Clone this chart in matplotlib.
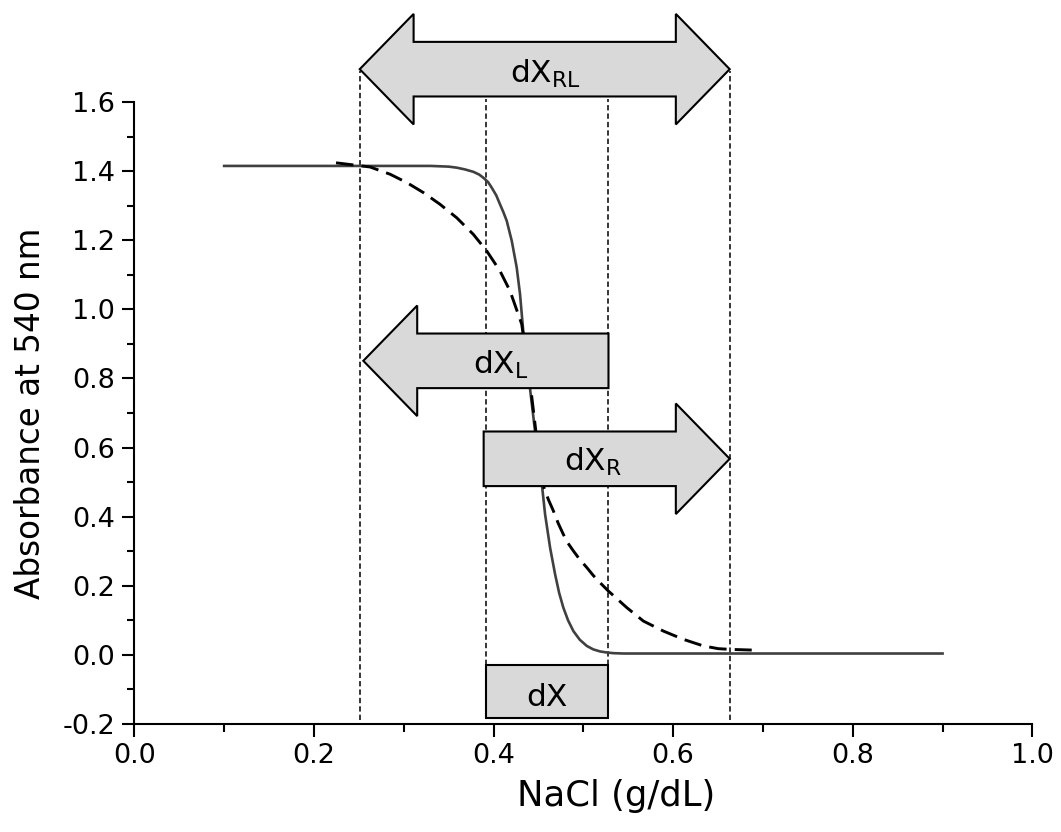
"""Absorbance vs NaCl: sharp and broad lysis curves with dX interval arrows."""

import matplotlib

matplotlib.use("Agg")
import matplotlib.pyplot as plt  # noqa: E402
import matplotlib.ticker as ticker  # noqa: E402
from matplotlib.patches import Polygon  # noqa: E402

# solid (steep) curve
SOLID_X = [0.100, 0.185, 0.296, 0.330, 0.350, 0.359, 0.368, 0.3775, 0.384,
           0.3886, 0.394, 0.398, 0.403, 0.4072, 0.411, 0.4147, 0.4203,
           0.4258, 0.4295, 0.4332, 0.4407, 0.4462, 0.454, 0.4574, 0.4630,
           0.4685, 0.473, 0.4777, 0.483, 0.4889, 0.496, 0.5038, 0.511,
           0.5186, 0.526, 0.5334, 0.545, 0.563, 0.63, 0.741, 0.900]
SOLID_Y = [1.415, 1.415, 1.415, 1.415, 1.413, 1.410, 1.405, 1.398, 1.390,
           1.381, 1.368, 1.352, 1.330, 1.304, 1.281, 1.256, 1.198,
           1.121, 1.044, 0.933, 0.769, 0.648, 0.489, 0.407, 0.310,
           0.234, 0.180, 0.137, 0.100, 0.069, 0.044, 0.026, 0.016,
           0.010, 0.007, 0.005, 0.004, 0.004, 0.004, 0.004, 0.004]

# dashed (broad) curve
DASH_X = [0.2246, 0.2625, 0.2848, 0.3033, 0.3218, 0.3404, 0.3590, 0.3775,
          0.3924, 0.4072, 0.4184, 0.4314, 0.4418, 0.4484, 0.4555, 0.4610,
          0.4666, 0.4720, 0.4777, 0.4830, 0.4889, 0.4960, 0.5038, 0.5110,
          0.5186, 0.5278, 0.5483, 0.5668, 0.5891, 0.6114, 0.6336, 0.6503,
          0.6634, 0.6875]
DASH_Y = [1.424, 1.412, 1.391, 1.367, 1.338, 1.304, 1.265, 1.217,
          1.169, 1.111, 1.053, 0.957, 0.764, 0.619, 0.489, 0.450,
          0.417, 0.381, 0.349, 0.323, 0.301, 0.276, 0.253, 0.230,
          0.209, 0.185, 0.137, 0.098, 0.069, 0.045, 0.026, 0.018,
          0.016, 0.014]

# intervals marked on the chart
DX = (0.392, 0.528)
DX_L = (0.255, 0.528)
DX_R = (0.389, 0.663)
DX_RL = (0.251, 0.663)
OUTER_LINES = [0.251, 0.663]
INNER_LINES = [0.392, 0.528]

FILL = "#d9d9d9"
FONT = "DejaVu Sans"

plt.rcParams["font.family"] = FONT
plt.rcParams["mathtext.fontset"] = "dejavusans"
plt.rcParams["axes.unicode_minus"] = False


def arrow_poly(x0, x1, yc, body=0.158, head=0.32, hlen=0.06,
               left=False, right=False):
    top, bot = yc + body / 2, yc - body / 2
    htop, hbot = yc + head / 2, yc - head / 2
    if left:
        pts = [(x0, yc), (x0 + hlen, htop), (x0 + hlen, top)]
    else:
        pts = [(x0, bot), (x0, top)]
    if right:
        pts += [(x1 - hlen, top), (x1 - hlen, htop), (x1, yc),
                (x1 - hlen, hbot), (x1 - hlen, bot)]
    else:
        pts += [(x1, top), (x1, bot)]
    if left:
        pts += [(x0 + hlen, bot), (x0 + hlen, hbot)]
    return Polygon(pts, closed=True, facecolor=FILL, edgecolor="black",
                   linewidth=1.5, zorder=5, clip_on=False)


fig = plt.figure(figsize=(10.61, 8.32), dpi=100)
ax = fig.add_axes([0.1266, 0.1298, 0.8464, 0.7476])

ax.plot(SOLID_X, SOLID_Y, color="#404040", linewidth=1.9, zorder=3)
ax.plot(DASH_X, DASH_Y, color="black", linewidth=2.1,
        dashes=(6, 2.8), zorder=3)

guide = dict(color="black", linewidth=1.1, dashes=(3.5, 2), zorder=2,
             clip_on=False)
for x in OUTER_LINES:
    ax.plot([x, x], [-0.188, 1.69], **guide)
for x in INNER_LINES:
    ax.plot([x, x], [-0.03, 1.61], **guide)

ax.add_patch(arrow_poly(*DX_RL, 1.695, left=True, right=True))
ax.add_patch(arrow_poly(*DX_L, 0.851, left=True))
ax.add_patch(arrow_poly(*DX_R, 0.5675, right=True))
ax.add_patch(arrow_poly(DX[0], DX[1], -0.107, body=0.154))

label_kw = dict(ha="center", va="baseline", fontsize=22.5, zorder=6,
                clip_on=False)
ax.text(0.4573, 1.656, r"dX$_{\rm RL}$", **label_kw)
ax.text(0.4077, 0.814, r"dX$_{\rm L}$", **label_kw)
ax.text(0.511, 0.532, r"dX$_{\rm R}$", **label_kw)
ax.text(0.4596, -0.148, "dX", **label_kw)

ax.set_xlim(0.0, 1.0)
ax.set_ylim(-0.2, 1.6)
ax.xaxis.set_major_locator(ticker.MultipleLocator(0.2))
ax.xaxis.set_minor_locator(ticker.MultipleLocator(0.1))
ax.yaxis.set_major_locator(ticker.MultipleLocator(0.2))
ax.yaxis.set_minor_locator(ticker.MultipleLocator(0.1))
ax.xaxis.set_major_formatter(ticker.FormatStrFormatter("%.1f"))
ax.yaxis.set_major_formatter(ticker.FormatStrFormatter("%.1f"))

ax.spines["top"].set_visible(False)
ax.spines["right"].set_visible(False)
for side in ("left", "bottom"):
    ax.spines[side].set_linewidth(1.5)
ax.tick_params(which="major", direction="out", length=9, width=1.5,
               labelsize=19.5, pad=5)
ax.tick_params(which="minor", direction="out", length=5.4, width=1.5)

ax.set_xlabel("NaCl (g/dL)", fontsize=25.5)
ax.xaxis.set_label_coords(0.536, -0.088)
ax.set_ylabel("Absorbance at 540 nm", fontsize=23.5)
ax.yaxis.set_label_coords(-0.097, 0.5)

fig.savefig("out.png", dpi=100, facecolor="white")
plt.close(fig)
